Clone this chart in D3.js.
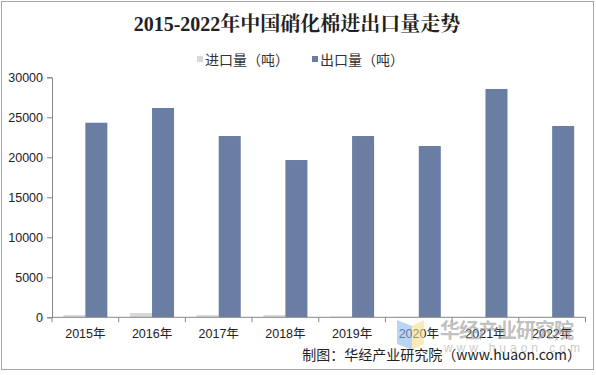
<!DOCTYPE html>
<html><head><meta charset="utf-8">
<script src="https://cdn.jsdelivr.net/npm/d3@7"></script>
<style>body{margin:0;background:#fff}svg{display:block}</style>
</head><body>
<svg id="c" width="596" height="375"></svg>
<script>
const years = ["2015年","2016年","2017年","2018年","2019年","2020年","2021年","2022年"];
const importVals = [290, 540, 290, 290, 100, 60, 40, 40];
const exportVals = [24320, 26160, 22660, 19660, 22660, 21410, 28540, 23910];
const yTicks = [0, 5000, 10000, 15000, 20000, 25000, 30000];
const seriesNames = ["进口量（吨）", "出口量（吨）"];
const colors = ["#d9d9d9", "#6a7da2"];

const svg = d3.select("#c");
const font = "'Liberation Sans','Noto Sans CJK SC',sans-serif";

svg.append("rect").attr("x",1.5).attr("y",1.5).attr("width",592).attr("height",368)
  .attr("fill","#fff").attr("stroke","#a6a6a6").attr("stroke-width",1);

svg.append("text").attr("x",297).attr("y",31).attr("text-anchor","middle")
  .style("font-family","'Liberation Serif','Noto Serif CJK SC','Noto Sans CJK SC',serif")
  .style("font-weight","bold").style("font-size","20px").attr("fill","#222")
  .text("2015-2022年中国硝化棉进出口量走势");

const x = d3.scaleBand().domain(years).range([52, 585.5]).paddingInner(0.34).paddingOuter(0.17);
const y = d3.scaleLinear().domain([0,30000]).range([317.3, 77.3]);

// legend
const leg = [{n:seriesNames[0], c:colors[0], x:197},{n:seriesNames[1], c:colors[1], x:312}];
leg.forEach(l=>{
  svg.append("rect").attr("x",l.x).attr("y",56).attr("width",6).attr("height",6).attr("fill",l.c);
  svg.append("text").attr("x",l.x+8).attr("y",65).style("font-family","'Noto Sans CJK SC',sans-serif").style("font-size","14px")
    .attr("fill","#333").text(l.n);
});

// bars
const bw = x.bandwidth()/2;
const g = svg.append("g");
g.selectAll(".imp").data(years).join("rect").attr("class","imp")
  .attr("x",d=>x(d)).attr("width",bw)
  .attr("y",(d,i)=>y(importVals[i])).attr("height",(d,i)=>y(0)-y(importVals[i]))
  .attr("fill",colors[0]);
g.selectAll(".exp").data(years).join("rect").attr("class","exp")
  .attr("x",d=>x(d)+bw).attr("width",bw)
  .attr("y",(d,i)=>y(exportVals[i])).attr("height",(d,i)=>y(0)-y(exportVals[i]))
  .attr("fill",colors[1]);

// y axis
const ya = svg.append("g").attr("transform","translate(52,0)")
  .call(d3.axisLeft(y).tickValues(yTicks).tickSize(5).tickPadding(4).tickFormat(d3.format("d")));
ya.select(".domain").attr("stroke","#888");
ya.selectAll(".tick line").attr("stroke","#888");
ya.selectAll("text").style("font-family",font).style("font-size","12.5px").attr("fill","#222");

// x axis
const xa = svg.append("g").attr("transform","translate(0,317.3)");
xa.append("line").attr("x1",52).attr("x2",585.5).attr("stroke","#888");
const bounds = d3.range(years.length+1).map(i=>52 + i*(585.5-52)/years.length);
xa.selectAll(".xt").data(bounds).join("line").attr("x1",d=>d).attr("x2",d=>d).attr("y1",0).attr("y2",5).attr("stroke","#888");
xa.selectAll(".xl").data(years).join("text").attr("x",d=>x(d)+x.bandwidth()/2).attr("y",21)
  .attr("text-anchor","middle").style("font-family",font).style("font-size","12.5px").attr("fill","#222").text(d=>d);

// watermark
const wm = svg.append("g").attr("opacity",0.6);
wm.append("polygon").attr("points","397,320 412,326 412,350 397,344").attr("fill","#8db8ee");
wm.append("polygon").attr("points","412,326 424,320 424,344 412,350").attr("fill","#f3df8a");
wm.append("text").attr("x",440).attr("y",338).style("font-family","'Noto Sans CJK SC',sans-serif")
  .style("font-size","20px").style("font-weight","bold").attr("fill","#999").attr("letter-spacing","-1px").text("华经产业研究院");
wm.append("text").attr("x",444).attr("y",352).style("font-family",font)
  .style("font-size","12px").attr("fill","#aaa").attr("letter-spacing","4px").text("www.huaon.com");

svg.append("text").attr("x",581).attr("y",360).attr("text-anchor","end")
  .style("font-family","'Noto Sans CJK SC',sans-serif").style("font-size","14px").attr("fill","#222")
  .text("制图：华经产业研究院（www.huaon.com）");
</script>
</body></html>
